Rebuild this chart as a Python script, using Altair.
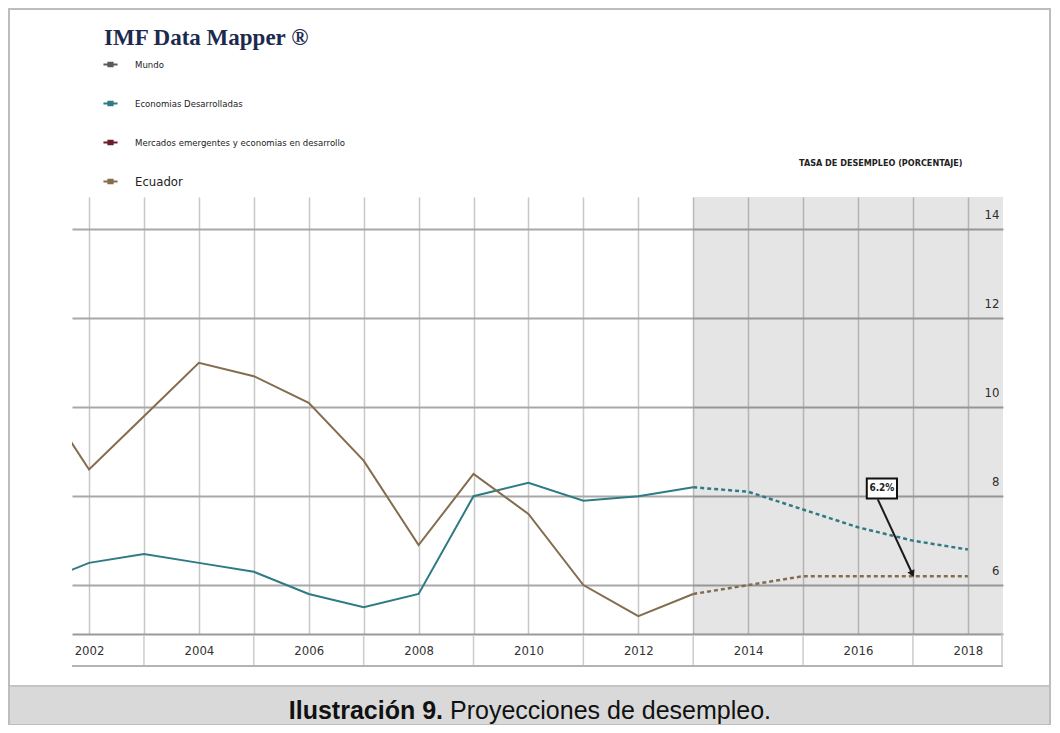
import altair as alt
import pandas as pd

# ---------------- data ----------------
years = list(range(2001, 2019))
economias = [6.0, 6.5, 6.7, 6.5, 6.3, 5.8, 5.5, 5.8, 8.0, 8.3, 7.9, 8.0, 8.2, 8.1, 7.7, 7.3, 7.0, 6.8]
ecuador = [10.5, 8.6, 9.8, 11.0, 10.7, 10.1, 8.8, 6.9, 8.5, 7.6, 6.0, 5.3, 5.8, 6.0, 6.2, 6.2, 6.2, 6.2]
series_names = ["Mundo", "Economias Desarrolladas",
                "Mercados emergentes y economias en desarrollo", "Ecuador"]
series_colors = ["#5a5a5a", "#2e7b83", "#6b1d2e", "#846c4e"]
last_actual_year = 2013
x_domain = [2001.69, 2018.64]
y_domain = [4.9, 14.73]
x_tick_years = list(range(2002, 2019))
odd_years = [y for y in x_tick_years if y % 2 == 1]
y_ticks = [6, 8, 10, 12, 14]
annot_label = ["6.2%"]
annot_box_x = [2016.16, 2016.71]
annot_box_y = [8.40, 7.95]
annot_arrow_x = [2016.36, 2016.99]
annot_arrow_y = [7.93, 6.25]
caption_bold = "Ilustración 9."
caption_regular = "Proyecciones de desempleo."
title_text = "IMF Data Mapper ®"
y_title = "TASA DE DESEMPLEO (PORCENTAJE)"

# ---------------- layout ----------------
W, H = 931, 437
PL, PT, PR, PB = 64, 189, 49, 91
NARROW = "Liberation Sans Narrow, Arial Narrow, DejaVu Sans Condensed, Roboto, sans-serif"

rows = []
for y, e, q in zip(years, economias, ecuador):
    rows.append({"year": y, "value": e, "series": "Economias Desarrolladas"})
    rows.append({"year": y, "value": q, "series": "Ecuador"})
df = pd.DataFrame(rows)

xscale = alt.Scale(domain=x_domain, nice=False, zero=False)
yscale = alt.Scale(domain=y_domain, nice=False, zero=False)

xaxis = alt.Axis(values=x_tick_years, format="d",
                 labelExpr="datum.value % 2 == 0 ? datum.label : ''",
                 grid=True, gridColor="#c8c8c8", gridWidth=1.5,
                 ticks=False, domain=True, domainColor="#9a9a9a", domainWidth=2,
                 labelFont=NARROW, labelFontSize=13, labelColor="#333333",
                 labelPadding=10, labelBaseline="top", title=None)
yaxis = alt.Axis(orient="right", values=y_ticks, grid=True, gridColor="#a8a8a8",
                 gridWidth=2, ticks=False, domain=False,
                 labelPadding=-4, labelAlign="right", labelBaseline="middle",
                 labelOffset=-15, labelFont=NARROW, labelFontSize=13,
                 labelColor="#333333",
                 title=y_title, titleAngle=0, titleAlign="right",
                 titleBaseline="middle", titleX=-41, titleY=-35,
                 titleFont=NARROW, titleFontSize=9, titleFontWeight="bold",
                 titleColor="#222222")

X = lambda f: alt.X(f, scale=xscale, axis=xaxis)
Y = lambda f: alt.Y(f, scale=yscale, axis=yaxis)

legend = alt.Legend(orient="none", legendX=30, legendY=-141, title=None,
                    symbolType="M-1,0L1,0M-0.3,-0.25L0.3,-0.25L0.3,0.25L-0.3,0.25Z",
                    symbolSize=200, symbolStrokeWidth=2, symbolOpacity=1,
                    labelFont=NARROW,
                    labelFontSize={"expr": "datum.label == 'Ecuador' ? 13 : 9.5"},
                    labelColor="#222222", labelLimit=0,
                    rowPadding=24, labelOffset=16, direction="vertical")
color = alt.Color("series:N", scale=alt.Scale(domain=series_names, range=series_colors),
                  legend=legend)

# frame and caption band
frame = alt.Chart(pd.DataFrame({"k": [0]})).mark_rect(
    fill="transparent", stroke="#bdbdbd", strokeWidth=2).encode(
    x=alt.value(-63), x2=alt.value(W + PR - 2), y=alt.value(-PT + 1), y2=alt.value(H + PB))

caption_band = alt.Chart(pd.DataFrame({"k": [0]})).mark_rect(
    fill="#d9d9d9", stroke="#c4c4c4", strokeWidth=2).encode(
    x=alt.value(-63), x2=alt.value(W + PR - 2), y=alt.value(489), y2=alt.value(H + PB + 2))

# shading of projections
shade = alt.Chart(pd.DataFrame({"x": [last_actual_year], "x2": [x_domain[1]]})).mark_rect(
    fill="#000000", opacity=0.1).encode(
    x=X("x:Q"), x2="x2:Q", y=alt.value(0), y2=alt.value(H))

# x-axis band
band_bottom = alt.Chart(pd.DataFrame({"k": [0]})).mark_rule(
    color="#b4b4b4", strokeWidth=2).encode(
    x=alt.value(0), x2=alt.value(W), y=alt.value(H + 32))
band_right = alt.Chart(pd.DataFrame({"k": [0]})).mark_rule(
    color="#c8c8c8", strokeWidth=1.5).encode(
    x=alt.value(W - 1), y=alt.value(H), y2=alt.value(H + 32))
band_sep = alt.Chart(pd.DataFrame({"year": odd_years})).mark_rule(
    color="#cccccc", strokeWidth=1.5).encode(
    x=X("year:Q"), y=alt.value(H + 1), y2=alt.value(H + 31))

actual = alt.Chart(df).transform_filter(
    alt.datum.year <= last_actual_year).mark_line(strokeWidth=2, clip=True).encode(
    x=X("year:Q"), y=Y("value:Q"), color=color)
proj = alt.Chart(df).transform_filter(
    alt.datum.year >= last_actual_year).mark_line(
    strokeWidth=2.5, strokeDash=[4, 3], clip=True).encode(
    x=X("year:Q"), y=Y("value:Q"), color=color)

ann_box = alt.Chart(pd.DataFrame({"x": [annot_box_x[0]], "x2": [annot_box_x[1]],
                                  "y": [annot_box_y[0]], "y2": [annot_box_y[1]]})).mark_rect(
    fill="white", stroke="#111111", strokeWidth=2).encode(
    x=X("x:Q"), x2="x2:Q", y=Y("y:Q"), y2="y2:Q")
ann_text = alt.Chart(pd.DataFrame({"x": [sum(annot_box_x) / 2], "y": [sum(annot_box_y) / 2],
                                   "t": annot_label})).mark_text(
    font=NARROW, fontSize=10, fontWeight="bold", color="#222222").encode(
    x=X("x:Q"), y=Y("y:Q"), text="t:N")
ann_arrow = alt.Chart(pd.DataFrame({"x": [annot_arrow_x[0]], "x2": [annot_arrow_x[1]],
                                    "y": [annot_arrow_y[0]], "y2": [annot_arrow_y[1]]})).mark_rule(
    color="#1a1a1a", strokeWidth=2).encode(
    x=X("x:Q"), x2="x2:Q", y=Y("y:Q"), y2="y2:Q")
ann_head = alt.Chart(pd.DataFrame({"x": [annot_arrow_x[1]], "y": [annot_arrow_y[1]]})).mark_point(
    shape="triangle-down", filled=True, size=60, angle=335, color="#1a1a1a", opacity=1).encode(
    x=X("x:Q"), y=Y("y:Q"))

title = alt.Chart(pd.DataFrame({"t": [title_text]})).mark_text(
    font="Liberation Serif", fontSize=23, fontWeight="bold", color="#1b2a4e",
    align="left", baseline="alphabetic").encode(
    x=alt.value(32), y=alt.value(-152), text="t:N")

cap1 = alt.Chart(pd.DataFrame({"t": [caption_bold]})).mark_text(
    font="Liberation Sans", fontSize=25, fontWeight="bold", color="#111111",
    align="right", baseline="middle").encode(
    x=alt.value(371), y=alt.value(514), text="t:N")
cap2 = alt.Chart(pd.DataFrame({"t": [caption_regular]})).mark_text(
    font="Liberation Sans", fontSize=25, color="#111111",
    align="left", baseline="middle").encode(
    x=alt.value(378), y=alt.value(514), text="t:N")

chart = alt.layer(
    caption_band, frame, shade, band_bottom, band_right, band_sep, actual, proj,
    ann_arrow, ann_head, ann_box, ann_text, title, cap1, cap2
).properties(
    width=W, height=H,
    padding={"left": PL, "top": PT, "right": PR, "bottom": PB},
    autosize=alt.AutoSizeParams(type="none"),
    background="white"
).configure_view(stroke=None)

chart.save("out.html", embed_options={"renderer": "svg", "actions": False})
